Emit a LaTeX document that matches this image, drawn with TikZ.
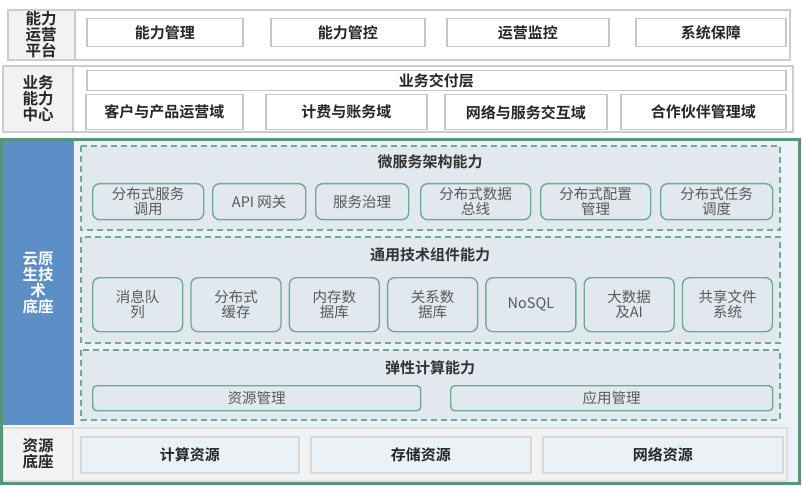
\documentclass[tikz,border=0pt]{standalone}
\usepackage{fontspec}
\setmainfont{Noto Sans CJK SC}[BoldFont={Noto Sans CJK SC Bold}]
\definecolor{gfr}{RGB}{88,150,122}
\definecolor{gln}{RGB}{110,170,150}
\definecolor{bgi}{RGB}{236,241,245}
\definecolor{bgd}{RGB}{226,233,238}
\definecolor{blu}{RGB}{91,143,197}
\begin{document}
\begin{tikzpicture}[x=1pt,y=-1pt,
 outer/.style={draw=black!20,line width=1.5pt,fill=black!5},
 wbox/.style={draw=black!22,line width=1.5pt,fill=white,font=\bfseries\fontsize{15}{16}\selectfont,text=black!85},
 lab/.style={font=\bfseries\fontsize{15.5}{16}\selectfont,align=center,text=black!85},
 dbox/.style={draw=gln,dashed,dash pattern=on 6pt off 4pt,line width=1.3pt,fill=bgd},
 gbox/.style={draw=gln,line width=1.4pt,rounded corners=7pt,fill=bgd,font=\fontsize{14.5}{15}\selectfont,align=center,text=black!65},
 ttl/.style={font=\bfseries\fontsize{15}{16}\selectfont,text=black!80}]
\useasboundingbox (0,0) rectangle (802,486);
% row 1
\draw[outer] (8,10) rectangle (790,60);
\fill[white] (76,11) rectangle (789,59);
\draw[draw=black!20,line width=1.5pt] (75,10) -- (75,60);
\node[lab] (l1) at (41,35) {能力\\运营\\平台};
\foreach \a/\b/\t/\n in {86/242/能力管理/a1,270/424/能力管控/a2,446/608/运营监控/a3,635/785/系统保障/a4}
 \node[wbox,minimum width={\b-\a},minimum height=28,anchor=north west] (\n) at (\a,18) {\t};
% row 2
\draw[outer] (3,66) rectangle (793,132);
\fill[white] (74,67) rectangle (792,131);
\draw[draw=black!20,line width=1.5pt] (73,66) -- (73,132);
\node[lab] (l2) at (38,99) {业务\\能力\\中心};
\node[wbox,minimum width=699,minimum height=20,inner sep=1pt,anchor=north west] (jf) at (86,70) {业务交付层};
\foreach \a/\b/\t/\n in {85/242/客户与产品运营域/b1,265/426/计费与账务域/b2,444/606/网络与服务交互域/b3,620/785/合作伙伴管理域/b4}
 \node[wbox,minimum width={\b-\a},minimum height=35,anchor=north west] (\n) at (\a,94) {\t};
% big frame
\fill[bgi] (75,140) rectangle (798,482);
\fill[blu] (2,140) rectangle (74,425);
\node[lab,text=white] (l3) at (38,283) {云原\\生技\\术\\底座};
\draw[dbox] (81,146) rectangle (780,230);
\node[ttl] (t1) at (430,162) {微服务架构能力};
\foreach \a/\b/\t/\n in {92/203/{分布式服务\\调用}/c1,212/305/API 网关/c2,315/408/服务治理/c3,420/530/{分布式数据\\总线}/c4,540/650/{分布式配置\\管理}/c5,660/772/{分布式任务\\调度}/c6}
 \node[gbox,minimum width={\b-\a},minimum height=36,anchor=north west,inner sep=1pt] (\n) at (\a,183) {\t};
\draw[dbox] (81,237) rectangle (780,343);
\node[ttl] (t2) at (430,255) {通用技术组件能力};
\foreach \i/\t in {0/{消息队\\列},1/{分布式\\缓存},2/{内存数\\据库},3/{关系数\\据库},4/NoSQL,5/{大数据\\及AI},6/{共享文件\\系统}}
 \node[gbox,minimum width=90,minimum height=54,anchor=north west,inner sep=1pt] (d\i) at ({92+\i*98.3},277) {\t};
\draw[dbox] (81,350) rectangle (780,420);
\node[ttl] (t3) at (430,368) {弹性计算能力};
\node[gbox,rounded corners=4pt,minimum width=328,minimum height=25,inner sep=1pt,anchor=north west] (e1) at (92,385) {资源管理};
\node[gbox,rounded corners=4pt,minimum width=322,minimum height=25,inner sep=1pt,anchor=north west] (e2) at (450,385) {应用管理};
% bottom
\draw[draw=black!12,line width=1.5pt,fill=black!5] (3,428) rectangle (787,481);
\draw[draw=black!12,line width=1.5pt] (73,428) -- (73,481);
\node[lab] (l4) at (38,454) {资源\\底座};
\foreach \a/\b/\t/\n in {80/298/计算资源/f1,310/530/存储资源/f2,542/782/网络资源/f3}
 \node[wbox,fill=bgi,draw=black!15,minimum width={\b-\a},minimum height=36,anchor=north west] (\n) at (\a,436) {\t};
\draw[draw=gfr,line width=3pt] (1.5,139.5) rectangle (799.5,483.5);
\end{tikzpicture}
\end{document}
